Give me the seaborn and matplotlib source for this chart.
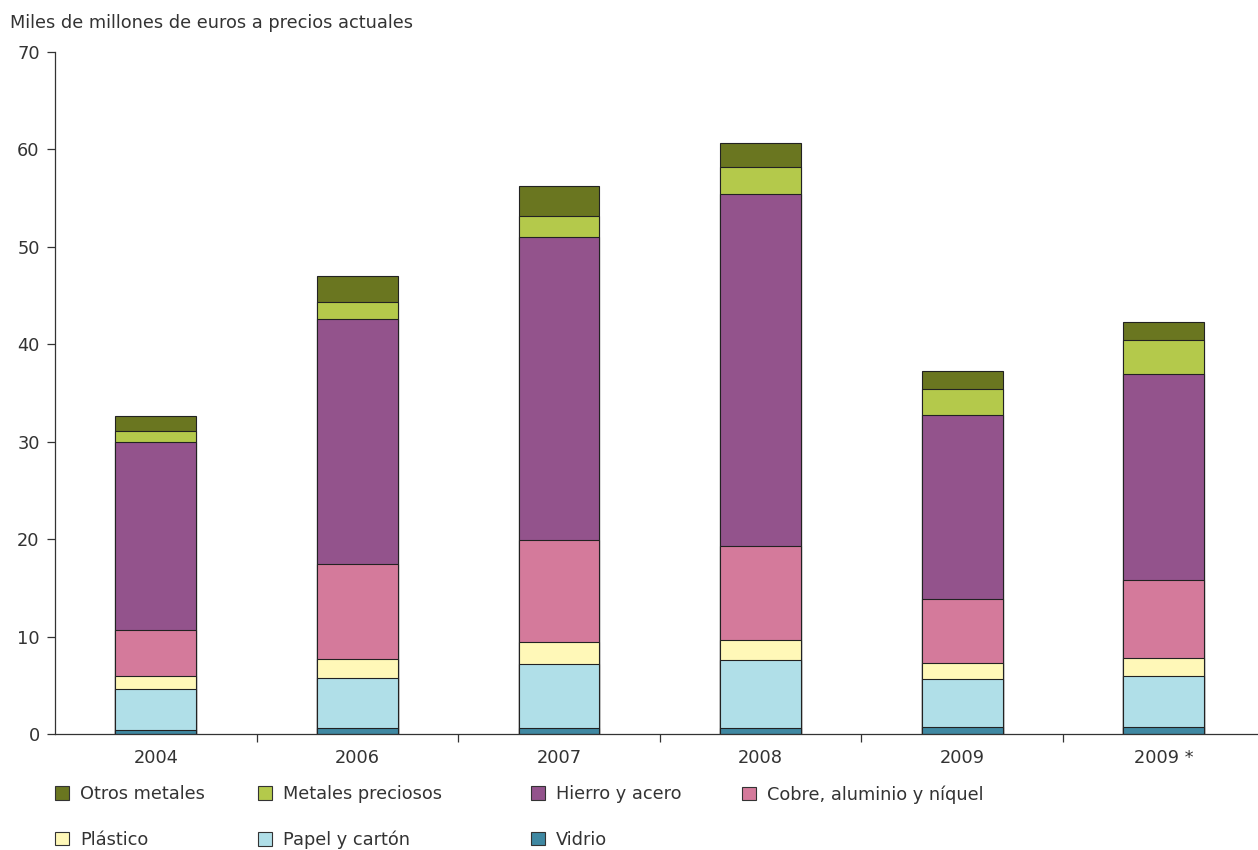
import numpy as np
import pandas as pd
import seaborn as sns
import matplotlib.pyplot as plt
from matplotlib.patches import Patch
from matplotlib.ticker import FixedLocator

years = ["2004", "2006", "2007", "2008", "2009", "2009 *"]
vidrio = [0.45, 0.6, 0.6, 0.6, 0.7, 0.7]
papel = [4.2, 5.15, 6.6, 7.0, 4.9, 5.25]
plastico = [1.3, 1.95, 2.2, 2.0, 1.65, 1.8]
cobre = [4.75, 9.7, 10.5, 9.7, 6.6, 8.1]
hierro = [19.25, 25.15, 31.15, 36.1, 18.9, 21.05]
metales = [1.1, 1.75, 2.1, 2.8, 2.7, 3.5]
otros = [1.6, 2.75, 3.05, 2.5, 1.85, 1.9]

series_names = ["Vidrio", "Papel y cartón", "Plástico", "Cobre, aluminio y níquel",
                "Hierro y acero", "Metales preciosos", "Otros metales"]
series_vals = [vidrio, papel, plastico, cobre, hierro, metales, otros]
colors = {
    "Vidrio": "#3f88a2",
    "Papel y cartón": "#b0dfe8",
    "Plástico": "#fff8b8",
    "Cobre, aluminio y níquel": "#d47a9b",
    "Hierro y acero": "#93538c",
    "Metales preciosos": "#b4c94b",
    "Otros metales": "#6a7620",
}

sns.set_theme(style="white")
plt.rcParams["font.family"] = ["DejaVu Sans"]
TXT = "#333333"
FS = 12.8

fig = plt.figure(figsize=(12.58, 8.5), dpi=100)
W, H = 1258, 850
ax = fig.add_axes([55 / W, (H - 734) / H, (1258 - 55) / W, (734 - 52) / H])

cum = np.cumsum(np.array(series_vals), axis=0)
df = pd.DataFrame({"year": years})
for name, c in zip(series_names, cum):
    df[name] = c

# draw from the top layer down so lower layers overlay
for name in reversed(series_names):
    sns.barplot(data=df, x="year", y=name, color=colors[name], width=0.4,
                edgecolor="#222222", linewidth=0.8, saturation=1, ax=ax)

ax.set_ylim(0, 70)
ax.set_xlim(-0.5, -0.5 + (1258 - 55) / 201.6)
ax.set_yticks(range(0, 71, 10))
ax.set_xlabel("")
ax.set_ylabel("")
for s in ["top", "right"]:
    ax.spines[s].set_visible(False)
for s in ["left", "bottom"]:
    ax.spines[s].set_color("#333333")
    ax.spines[s].set_linewidth(0.9)

ax.tick_params(axis="y", which="major", direction="out", length=6, width=0.9,
               color="#333333", labelsize=FS, labelcolor=TXT, pad=5, left=True)
ax.tick_params(axis="x", which="major", length=0, labelsize=FS, labelcolor=TXT, pad=11)
ax.xaxis.set_minor_locator(FixedLocator(np.arange(0.5, 6, 1.0)))
ax.tick_params(axis="x", which="minor", direction="out", length=6, width=0.9,
               color="#333333", bottom=True)

fig.text(10 / W, 1 - 23 / H, "Miles de millones de euros a precios actuales",
         fontsize=FS, color=TXT, va="center", ha="left")

# legend: four columns placed individually
legend_cols = [
    (55, ["Otros metales", "Plástico"]),
    (258, ["Metales preciosos", "Papel y cartón"]),
    (531, ["Hierro y acero", "Vidrio"]),
    (742, ["Cobre, aluminio y níquel"]),
]
for xpx, names in legend_cols:
    handles = [Patch(facecolor=colors[n], edgecolor="#333333", linewidth=0.8, label=n)
               for n in names]
    leg = fig.legend(handles=handles, loc="upper left",
                     bbox_to_anchor=(xpx / W, 1 - 785 / H), frameon=False,
                     fontsize=FS, handlelength=0.8, handleheight=0.8,
                     handletextpad=0.6, labelspacing=1.55, borderpad=0,
                     borderaxespad=0)
    for t in leg.get_texts():
        t.set_color(TXT)

fig.savefig("out.png", dpi=100)
